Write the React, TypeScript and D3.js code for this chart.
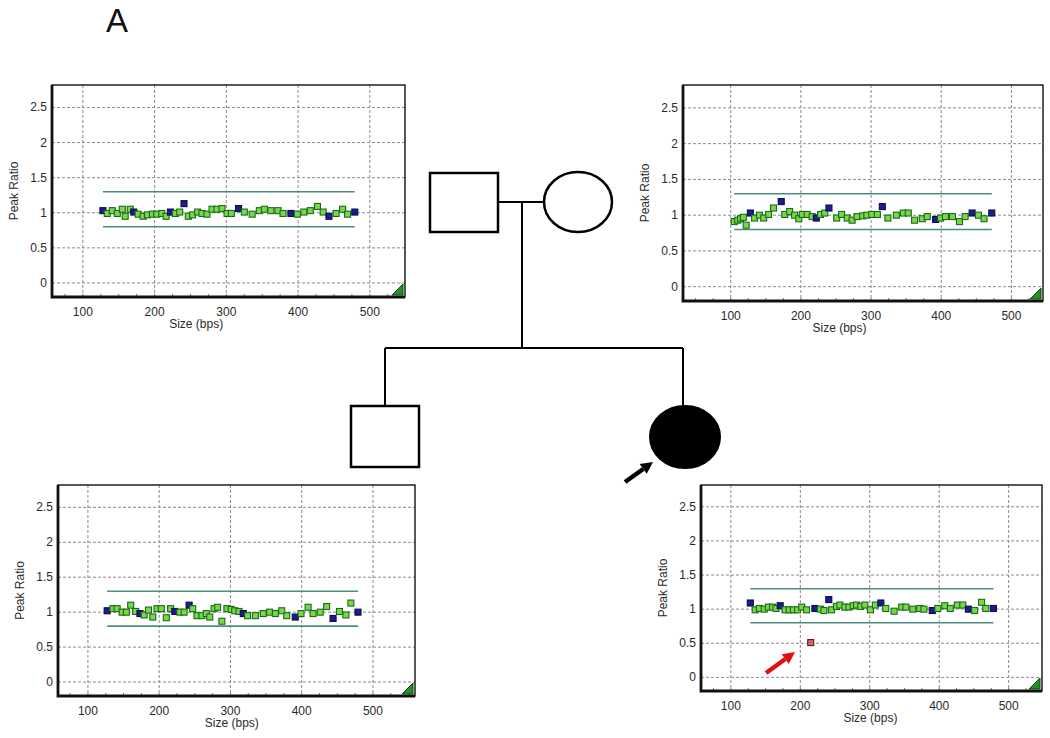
import React, { useRef, useEffect } from "react";
import * as d3 from "d3";

// peak ratio per probe
// father (top left)
const fatherSize = [128, 134, 141, 148, 155, 159, 166, 171, 177, 184, 190, 197, 203, 210, 216, 222, 229, 235, 241, 247, 253, 260, 266, 273, 280, 287, 294, 301, 307, 317, 325, 336, 346, 353, 362, 372, 379, 390, 399, 408, 417, 427, 435, 443, 453, 462, 469, 479];
const fatherRatio = [1.03, 0.99, 1.03, 0.99, 1.05, 0.95, 1.05, 1.01, 0.98, 0.95, 0.97, 0.98, 0.98, 0.99, 0.95, 1.01, 0.99, 1.01, 1.13, 0.95, 0.97, 1.01, 0.99, 0.98, 1.05, 1.05, 1.06, 0.99, 0.99, 1.06, 1.01, 0.98, 1.03, 1.05, 1.03, 1.03, 0.99, 0.99, 0.98, 1.01, 1.03, 1.09, 1.01, 0.95, 0.99, 1.05, 0.98, 1.01];
const fatherKind = "bggggggbgggggggbggbggggggggggbgggggggbgggggbgggb";

// mother (top right)
const motherSize = [105, 110, 114, 118, 122, 128, 134, 141, 147, 154, 161, 172, 177, 184, 191, 197, 202, 209, 216, 222, 228, 234, 240, 251, 258, 266, 273, 280, 288, 294, 301, 309, 316, 324, 336, 346, 353, 362, 373, 380, 392, 399, 406, 416, 426, 434, 444, 453, 461, 472];
const motherRatio = [0.91, 0.93, 0.95, 0.97, 0.86, 1.03, 0.96, 1.0, 0.96, 1.01, 1.1, 1.19, 1.01, 1.05, 1.0, 0.95, 1.01, 1.01, 0.98, 0.96, 1.01, 1.03, 1.1, 0.96, 1.01, 0.96, 0.93, 0.98, 0.99, 1.0, 1.01, 1.01, 1.12, 0.96, 1.0, 1.03, 1.03, 0.93, 0.95, 0.98, 0.94, 0.96, 0.98, 0.98, 0.91, 0.98, 1.03, 1.0, 0.95, 1.03];
const motherKind = "gggggbgggggbgggggggbggbgggggggggbgggggggbgggggbggb";

// son (bottom left)
const sonSize = [127, 135, 141, 148, 154, 160, 167, 173, 179, 185, 191, 197, 203, 210, 216, 222, 229, 235, 242, 247, 253, 260, 266, 271, 277, 282, 288, 295, 301, 306, 312, 318, 324, 335, 346, 355, 363, 372, 379, 391, 399, 409, 416, 426, 435, 444, 453, 462, 469, 479];
const sonRatio = [1.02, 1.05, 1.05, 1.0, 1.0, 1.1, 1.01, 0.98, 0.96, 1.03, 0.93, 1.05, 1.05, 0.92, 1.05, 1.01, 1.0, 1.0, 1.1, 1.05, 0.95, 0.95, 0.98, 0.93, 1.05, 1.07, 0.87, 1.05, 1.04, 1.02, 1.01, 0.98, 0.95, 0.95, 0.98, 1.0, 0.98, 1.02, 0.95, 0.93, 0.98, 1.07, 0.98, 1.0, 1.08, 0.91, 1.01, 0.96, 1.13, 1.0];
const sonKind = "bggggggbgggggggbggbggggggggggggbgggggggbgggggbgggb";

// daughter, proband (bottom right)
const probandSize = [128, 135, 141, 148, 154, 160, 165, 171, 178, 184, 190, 196, 202, 209, 215, 221, 229, 234, 241, 245, 252, 257, 264, 270, 276, 281, 287, 293, 301, 308, 316, 323, 335, 346, 352, 362, 372, 378, 390, 398, 408, 416, 426, 434, 442, 451, 461, 467, 478];
const probandRatio = [1.09, 0.99, 1.01, 1.0, 1.03, 1.03, 1.01, 1.05, 0.99, 0.99, 0.99, 0.99, 1.03, 0.99, 0.51, 1.01, 1.0, 0.98, 1.14, 0.99, 1.04, 1.06, 1.03, 1.03, 1.05, 1.06, 1.04, 1.06, 0.99, 1.06, 1.09, 1.01, 0.97, 1.03, 1.03, 1.0, 1.01, 1.0, 0.98, 1.01, 1.05, 1.01, 1.06, 1.06, 1.0, 0.98, 1.1, 1.01, 1.01];
const probandKind = "bggggggbggggggrbggbgggggggggggbgggggggbgggggbgggb";

const xTicks = [100, 200, 300, 400, 500];
const yTicks = [0, 0.5, 1, 1.5, 2, 2.5];
const upperLimit = 1.3;
const lowerLimit = 0.8;

const panels = [
  { size: fatherSize, ratio: fatherRatio, kind: fatherKind, box: [52, 85, 405, 297], xDomain: [57, 549], labelAt: 258 },
  { size: motherSize, ratio: motherRatio, kind: motherKind, box: [683, 85, 1043, 301], xDomain: [32, 545], labelAt: 255 },
  { size: sonSize, ratio: sonRatio, kind: sonKind, box: [58, 485, 415, 696], xDomain: [58, 559], labelAt: 302 },
  { size: probandSize, ratio: probandRatio, kind: probandKind, box: [701, 485, 1042, 691], xDomain: [57, 548], labelAt: 301 },
];

const fills: Record<string, string> = { g: "#78d84a", b: "#1c1c8a", r: "#c86a78" };
const strokes: Record<string, string> = { g: "#1b6a1b", b: "#0b0b52", r: "#7a1010" };

const font = "'Liberation Sans', Arial, sans-serif";

function arrow(g: any, x1: number, y1: number, x2: number, y2: number, color: string) {
  const dx = x2 - x1, dy = y2 - y1;
  const len = Math.sqrt(dx * dx + dy * dy);
  const ux = dx / len, uy = dy / len;
  const head = 12, half = 6;
  const bx = x2 - ux * head, by = y2 - uy * head;
  g.append("line")
    .attr("x1", x1).attr("y1", y1).attr("x2", bx).attr("y2", by)
    .attr("stroke", color).attr("stroke-width", 4.5);
  g.append("polygon")
    .attr("points", `${x2},${y2} ${bx - uy * half},${by + ux * half} ${bx + uy * half},${by - ux * half}`)
    .attr("fill", color);
}

export default function App() {
  const svgRef = useRef<SVGSVGElement>(null);

  useEffect(() => {
    const svg = d3.select(svgRef.current);
    svg.selectAll("*").remove();

    svg.append("text")
      .attr("x", 117).attr("y", 32)
      .attr("text-anchor", "middle")
      .style("font", `33px ${font}`)
      .attr("fill", "#111")
      .text("A");

    panels.forEach((p) => {
      const [left, top, right, bottom] = p.box;
      const x = d3.scaleLinear().domain(p.xDomain).range([left, right]);
      const y = d3.scaleLinear().domain([-0.2, 2.82]).range([bottom, top]);
      const g = svg.append("g");

      // grid
      g.selectAll(".vgrid").data(xTicks).enter().append("line")
        .attr("x1", (d) => x(d)).attr("x2", (d) => x(d))
        .attr("y1", top).attr("y2", bottom)
        .attr("stroke", "#8a8a8a").attr("stroke-dasharray", "3,2");
      g.selectAll(".hgrid").data(yTicks).enter().append("line")
        .attr("x1", left).attr("x2", right)
        .attr("y1", (d) => y(d)).attr("y2", (d) => y(d))
        .attr("stroke", "#8a8a8a").attr("stroke-dasharray", "3,2");

      // minor ticks
      const minor = d3.range(Math.ceil(p.xDomain[0] / 25) * 25, p.xDomain[1], 25);
      g.selectAll(".minor").data(minor).enter().append("line")
        .attr("x1", (d) => x(d)).attr("x2", (d) => x(d))
        .attr("y1", bottom - 3).attr("y2", bottom)
        .attr("stroke", "#777");

      // tick labels
      g.selectAll(".xlab").data(xTicks).enter().append("text")
        .attr("x", (d) => x(d)).attr("y", bottom + 19)
        .attr("text-anchor", "middle")
        .style("font", `12px ${font}`).attr("fill", "#2a2a2a")
        .text((d) => d);
      g.selectAll(".ylab").data(yTicks).enter().append("text")
        .attr("x", left - 5).attr("y", (d) => y(d) + 4)
        .attr("text-anchor", "end")
        .style("font", `12px ${font}`).attr("fill", "#2a2a2a")
        .text((d) => d);

      g.append("text")
        .attr("x", x(p.labelAt)).attr("y", bottom + 31)
        .attr("text-anchor", "middle")
        .style("font", `12px ${font}`).attr("fill", "#2a2a2a")
        .text("Size (bps)");
      g.append("text")
        .attr("transform", `translate(${left - 34},${(top + bottom) / 2}) rotate(-90)`)
        .attr("text-anchor", "middle")
        .style("font", `12px ${font}`).attr("fill", "#2a2a2a")
        .text("Peak Ratio");

      // threshold lines over the probe span
      const normal = p.size.filter((_, i) => p.kind[i] !== "r");
      const [x0, x1] = d3.extent(normal) as [number, number];
      [upperLimit, lowerLimit].forEach((v) => {
        g.append("line")
          .attr("x1", x(x0)).attr("x2", x(x1))
          .attr("y1", y(v)).attr("y2", y(v))
          .attr("stroke", "#4d8c84").attr("stroke-width", 1.6);
      });

      // probes
      const s = 6;
      g.selectAll(".pt").data(p.size.map((d, i) => ({ size: d, ratio: p.ratio[i], kind: p.kind[i] })))
        .enter().append("rect")
        .attr("x", (d) => x(d.size) - s / 2).attr("y", (d) => y(d.ratio) - s / 2)
        .attr("width", s).attr("height", s)
        .attr("fill", (d) => fills[d.kind])
        .attr("stroke", (d) => strokes[d.kind])
        .attr("stroke-width", 1.1);

      // frame
      g.append("rect")
        .attr("x", left).attr("y", top)
        .attr("width", right - left).attr("height", bottom - top)
        .attr("fill", "none").attr("stroke", "#111").attr("stroke-width", 1.4);
      g.append("path")
        .attr("d", `M${left},${top} V${bottom} H${right}`)
        .attr("fill", "none").attr("stroke", "#111").attr("stroke-width", 2.8);

      // corner triangle
      g.append("polygon")
        .attr("points", `${right - 13},${bottom - 2} ${right - 2},${bottom - 13} ${right - 2},${bottom - 2}`)
        .attr("fill", "#259025").attr("stroke", "#0a4a0a");
    });

    // pedigree
    const ped = svg.append("g").attr("stroke", "#000").attr("stroke-width", 2).attr("fill", "#fff");
    ped.append("line").attr("x1", 498).attr("y1", 202).attr("x2", 544).attr("y2", 202);
    ped.append("line").attr("x1", 522).attr("y1", 202).attr("x2", 522).attr("y2", 348);
    ped.append("line").attr("x1", 385).attr("y1", 348).attr("x2", 683).attr("y2", 348);
    ped.append("line").attr("x1", 385).attr("y1", 348).attr("x2", 385).attr("y2", 405);
    ped.append("line").attr("x1", 683).attr("y1", 348).attr("x2", 683).attr("y2", 406);
    ped.append("rect").attr("x", 430).attr("y", 173).attr("width", 68).attr("height", 59).attr("stroke-width", 2.5);
    ped.append("ellipse").attr("cx", 578).attr("cy", 202).attr("rx", 34).attr("ry", 30).attr("stroke-width", 2.5);
    ped.append("rect").attr("x", 351).attr("y", 406).attr("width", 68).attr("height", 61).attr("stroke-width", 2.5);
    ped.append("ellipse").attr("cx", 685).attr("cy", 437).attr("rx", 35).attr("ry", 31).attr("fill", "#000");

    const arrows = svg.append("g");
    arrow(arrows, 625, 482, 653, 462, "#000");
    arrow(arrows, 766, 673, 795, 652, "#e01010");
  }, []);

  return (
    <svg
      ref={svgRef}
      width={1050}
      height={738}
      style={{ position: "absolute", left: 0, top: 0, background: "#fff" }}
    />
  );
}
